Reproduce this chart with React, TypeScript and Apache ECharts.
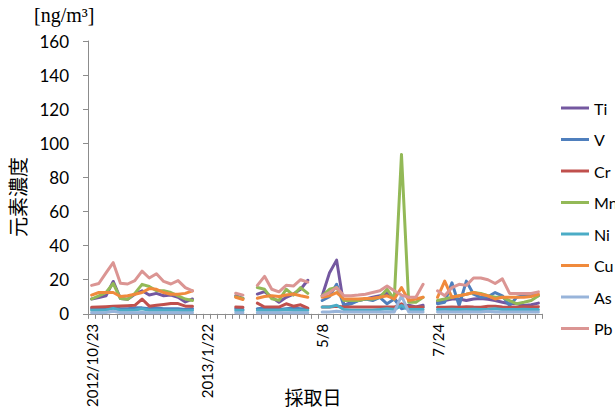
import React, { useEffect, useRef } from "react";
import * as echarts from "echarts";

// Element names and their line colours
const elements = ["Ti", "V", "Cr", "Mn", "Ni", "Cu", "As", "Pb"];
const colors = ["#7458A0", "#4F7FBD", "#C0504D", "#93B957", "#4BACC6", "#F08A3C", "#98B4DA", "#DB9593"];

// Sampling days on the category axis; dates are printed every 16 samples
const sampleCount = 63;
const tickLabels = ["2012/10/23", "2013/1/22", "5/8", "7/24"];
const labelEvery = 16;

// First sample index of each sampling campaign
const campaignStarts = [0, 20, 23, 32, 48];

// Concentrations [ng/m3] per campaign
const Ti = [
  [8.7, 9.5, 10.6, 19, 9, 8.5, 11.5, 13.5, 11, 12, 10.6, 11, 9.7, 7, 8.7],
  [10.6, 9],
  [11.6, 13, 9.7, 6.8, 9.7, 11.6, 14.4, 19.7],
  [10.6, 23.9, 31.5, 4.9, 6.8, 7.8, 8.7, 9.7, 10.6, 12, 9, 4, 5, 4, 5],
  [6.8, 7.8, 8.7, 8.7, 7.8, 8.7, 9, 8.5, 7.8, 6.8, 5.9, 5.9, 4.9, 5.3, 6.3],
];
const V = [
  [3, 3, 3, 4, 3, 3, 3.5, 3.5, 3, 3.5, 3, 3, 3, 2.5, 3],
  [3, 2.5],
  [3, 3.5, 3, 2.5, 3, 3.5, 3, 3],
  [7.8, 10, 17.3, 4.9, 5.9, 7.8, 8.7, 7.8, 9.7, 5.9, 8.7, 3, 4, 3, 4],
  [5.9, 6.8, 18.2, 4.9, 19.2, 11.5, 9.7, 10, 12.5, 10.6, 4.9, 9.7, 10.6, 11.5, 10.6],
];
const Cr = [
  [3.8, 4.0, 4.2, 4.4, 4.6, 4.8, 5.0, 8.7, 4.5, 5, 5.5, 6, 6, 4.5, 4.5],
  [4, 3.8],
  [6.3, 4, 4, 4, 5.9, 4.5, 5.3, 3.4],
  [4, 4, 4.5, 4, 4, 4, 4, 4, 4, 4, 4, 5.9, 4, 4, 4],
  [3.9, 3.9, 4, 3.9, 4.2, 4, 3.9, 4.5, 4.5, 4, 3.9, 3.9, 4.2, 4, 4.2],
];
const Mn = [
  [8.7, 10.6, 12.5, 17.8, 9, 8.5, 12, 17.3, 16, 13.5, 13.5, 12.5, 10.6, 8.7, 7.8],
  [10, 9],
  [15.4, 14.4, 8.8, 7.9, 14.4, 11, 15.4, 12],
  [10.6, 14.4, 15.4, 7.8, 7.8, 7.8, 8.7, 8.7, 9.7, 14.4, 8.7, 93.5, 6.8, 6.8, 9.7],
  [7.8, 8.7, 9.7, 10.6, 11.5, 12.5, 12, 10.6, 9.7, 9.7, 7.8, 5.9, 6.8, 7.8, 10.6],
];
const Ni = [
  [2.1, 2.1, 2.3, 3.2, 2.1, 2.1, 2.3, 3, 2.1, 2.3, 2.1, 2.1, 2.1, 1.8, 2],
  [2, 2],
  [2.1, 2.1, 2.1, 2.1, 2.5, 2.1, 2.1, 2.1],
  [4, 4, 5, 2.5, 2.1, 2.1, 2.1, 2.1, 2.5, 3, 2.5, 4.9, 2.5, 2.5, 2.5],
  [2.5, 2.5, 2.7, 2.5, 2.5, 2.7, 2.5, 2.5, 3, 2.5, 2.5, 2.5, 2.7, 2.5, 2.5],
];
const Cu = [
  [11, 12.5, 12.5, 12.5, 10.2, 10.6, 11.5, 12.5, 14.8, 14.4, 12.5, 11.5, 11.5, 12, 13.5],
  [9.7, 8.4],
  [9.1, 10.2, 10.6, 10.2, 11, 11.6, 10.6, 9.7],
  [9.7, 10.6, 12.5, 8.7, 8.7, 8.7, 9, 9.2, 9.7, 10.6, 8.7, 15.4, 7.8, 8.7, 9.7],
  [9.7, 19.2, 9.7, 10.6, 11.5, 12.5, 11.5, 10.6, 8.7, 9.7, 9.7, 9.7, 9.7, 10.2, 11.5],
];
const As = [
  [0.7, 0.7, 0.8, 1.5, 0.7, 0.7, 0.7, 0.8, 0.7, 0.7, 0.7, 0.7, 0.7, 0.6, 0.6],
  [0.7, 0.7],
  [0.7, 0.7, 0.7, 0.7, 0.7, 0.7, 0.7, 0.7],
  [1.1, 1.1, 1.5, 1.1, 1.1, 1.1, 1.1, 1.1, 1.1, 1.1, 1.1, 10.6, 1.1, 1.1, 1.1],
  [1.1, 1.2, 1.1, 1.1, 1.2, 1.1, 1.1, 1.5, 1.1, 1.1, 1.1, 1.1, 1.1, 1.1, 1.1],
];
const Pb = [
  [16.7, 17.8, 24, 30, 18, 17.5, 19.5, 25, 21, 23.5, 19, 17.5, 19.5, 15.4, 13.5],
  [12.1, 11],
  [16.7, 22, 14.4, 12.9, 16.7, 16.3, 20, 18.6],
  [10.6, 12.5, 15.4, 10.6, 10.6, 11, 11.5, 12.5, 13.5, 16.3, 13.5, 11, 9.7, 9.7, 17.3],
  [13.5, 10.6, 15.4, 17.3, 16.7, 21, 21, 20, 17.8, 20.5, 12, 12, 12, 12, 12.9],
];

const seriesValues = [Ti, V, Cr, Mn, Ni, Cu, As, Pb];

// Lay the campaigns out on the full sample axis, leaving gaps as nulls
function toAxisSeries(campaigns: number[][]): (number | null)[] {
  const out: (number | null)[] = new Array(sampleCount).fill(null);
  campaigns.forEach((vals, c) => {
    vals.forEach((v, k) => {
      out[campaignStarts[c] + k] = v;
    });
  });
  return out;
}

const categories = Array.from({ length: sampleCount }, (_, i) =>
  i % labelEvery === 0 ? tickLabels[i / labelEvery] ?? "" : ""
);

const latin = "Lato, 'Liberation Sans', sans-serif";
const cjk = "'Noto Sans CJK JP', sans-serif";
const axisGray = "#8C8C8C";

export default function App() {
  const ref = useRef<HTMLDivElement>(null);

  useEffect(() => {
    if (!ref.current) return;
    const chart = echarts.init(ref.current, undefined, { renderer: "svg" });
    chart.setOption({
      animation: false,
      backgroundColor: "#ffffff",
      grid: { left: 88, top: 41, width: 454, height: 281 },
      legend: {
        orient: "vertical",
        left: 561,
        top: 98,
        padding: 0,
        itemWidth: 28,
        itemHeight: 3,
        itemGap: 11.5,
        icon: "rect",
        data: elements,
        textStyle: { fontFamily: latin, fontSize: 16, color: "#000", lineHeight: 20 },
      },
      xAxis: {
        type: "category",
        data: categories,
        boundaryGap: true,
        axisLine: { lineStyle: { color: axisGray, width: 1 } },
        axisTick: { show: true, interval: 0, length: 5, lineStyle: { color: axisGray } },
        axisLabel: {
          interval: labelEvery - 1,
          rotate: 90,
          margin: 10,
          fontFamily: latin,
          fontSize: 15,
          color: "#000",
        },
        splitLine: { show: false },
      },
      yAxis: {
        type: "value",
        min: 0,
        max: 160,
        interval: 20,
        axisLine: { show: true, lineStyle: { color: axisGray, width: 1 } },
        axisTick: { show: true, length: 5, lineStyle: { color: axisGray } },
        axisLabel: { margin: 19, fontFamily: latin, fontSize: 17, color: "#000" },
        splitLine: { show: false },
      },
      graphic: [
        {
          type: "text",
          left: 34,
          top: 5,
          style: {
            text: "[ng/m³]",
            font: "20px 'Liberation Serif', serif",
            fill: "#000",
          },
        },
        {
          type: "text",
          x: 17,
          y: 197,
          rotation: Math.PI / 2,
          style: {
            text: "元素濃度",
            font: `20px ${cjk}`,
            fill: "#000",
            align: "center",
            verticalAlign: "middle",
          },
        },
        {
          type: "text",
          x: 313,
          y: 396,
          style: {
            text: "採取日",
            font: `19px ${cjk}`,
            fill: "#000",
            align: "center",
            verticalAlign: "middle",
          },
        },
      ],
      series: elements.map((name, i) => ({
        name,
        type: "line",
        data: toAxisSeries(seriesValues[i]),
        symbol: "none",
        connectNulls: false,
        color: colors[i],
        lineStyle: { width: 3, color: colors[i], cap: "round", join: "round" },
      })),
    });
    return () => chart.dispose();
  }, []);

  return (
    <div
      ref={ref}
      style={{ position: "fixed", left: 0, top: 0, width: 615, height: 410 }}
    />
  );
}
